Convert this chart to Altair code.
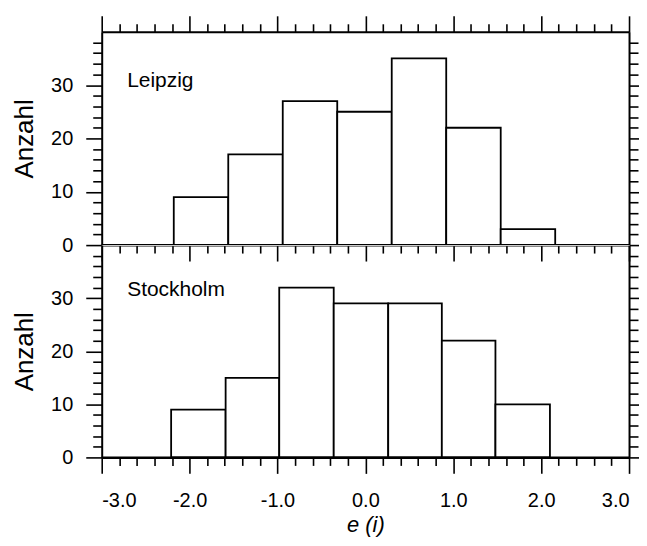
import altair as alt
import pandas as pd

# Histogram data
leipzig_edges = [-2.18, -1.56, -0.94, -0.32, 0.30, 0.92, 1.54, 2.16]
leipzig_counts = [9, 17, 27, 25, 35, 22, 3]
stockholm_edges = [-2.21, -1.59, -0.98, -0.36, 0.26, 0.87, 1.48, 2.10]
stockholm_counts = [9, 15, 32, 29, 29, 22, 10]
panel_names = ["Leipzig", "Stockholm"]

x_ticks = [round(-3 + 0.2 * i, 1) for i in range(31)]
y_ticks = list(range(0, 40, 2))

FONT = "Liberation Sans"
IS_INT = "abs(datum.value - round(datum.value)) < 0.001"


def frame(edges, counts):
    return pd.DataFrame({
        "x0": edges[:-1],
        "x1": edges[1:],
        "n": counts,
    })


def x_axis(orient, labels, title=None):
    kw = dict(
        orient=orient,
        values=x_ticks,
        tickSize={"condition": {"test": IS_INT, "value": 16}, "value": 8},
        tickColor="black",
        tickWidth=1.6,
        domainColor="black",
        domainWidth=2,
        grid=False,
        labels=labels,
        labelOverlap=False,
        title=title,
        zindex=1,
    )
    if labels:
        kw.update(
            labelExpr=f"{IS_INT} ? (datum.value < 0 ? '-' : '') + format(abs(datum.value), '.1f') : ''",
            labelFont=FONT,
            labelFontSize=20,
            labelColor="black",
            labelPadding=17,
        )
    if title:
        kw.update(
            titleFont=FONT,
            titleFontSize=22,
            titleFontStyle="italic",
            titleFontWeight="normal",
            titleColor="black",
            titlePadding=4,
        )
    return alt.Axis(**kw)


def y_axis(orient, labels):
    kw = dict(
        orient=orient,
        values=y_ticks,
        tickSize={"condition": {"test": "datum.value % 10 === 0", "value": 16}, "value": 9},
        tickColor="black",
        tickWidth=1.6,
        domainColor="black",
        domainWidth=2,
        grid=False,
        labels=labels,
        title="Anzahl" if labels else None,
        zindex=1,
    )
    if labels:
        kw.update(
            labelExpr="datum.value % 10 === 0 ? '' + datum.value : ''",
            labelFont=FONT,
            labelFontSize=20,
            labelColor="black",
            labelPadding=13,
            titleFont=FONT,
            titleFontSize=26,
            titleFontWeight="normal",
            titleColor="black",
            titlePadding=13,
        )
    return alt.Axis(**kw)


def panel(edges, counts, name, label_y, height, show_x_labels):
    df = frame(edges, counts)
    xs = alt.Scale(domain=[-3, 3], nice=False, zero=False)
    ys = alt.Scale(domain=[0, 40], nice=False)
    if show_x_labels:
        bottom_axis = x_axis("bottom", True, "e (i)")
    else:
        bottom_axis = x_axis("bottom", False)
    bars = alt.Chart(df).mark_rect(
        fill="white", stroke="black", strokeWidth=1.8
    ).encode(
        x=alt.X("x0:Q", scale=xs, axis=bottom_axis),
        x2="x1:Q",
        y=alt.Y("n:Q", scale=ys, axis=y_axis("left", True)),
        y2=alt.datum(0),
    )
    ghost_enc = dict(y=alt.Y("n:Q", scale=ys, axis=y_axis("right", False)))
    if not show_x_labels:
        ghost_enc["x"] = alt.X("x0:Q", scale=xs, axis=x_axis("top", False))
    ghost = alt.Chart(df).mark_point(opacity=0).encode(**ghost_enc)
    base_line = alt.Chart(pd.DataFrame({"t": [name]})).mark_rule(
        color="black", strokeWidth=2
    ).encode(y=alt.YDatum(0, axis=None))
    label = alt.Chart(pd.DataFrame({"t": [name]})).mark_text(
        align="left", baseline="alphabetic", font=FONT, fontSize=21, color="black"
    ).encode(
        x=alt.XDatum(-2.71, axis=None),
        y=alt.YDatum(label_y, axis=None),
        text="t:N",
    )
    return alt.layer(bars, ghost, base_line, label).resolve_axis(
        x="independent", y="independent"
    ).properties(width=529, height=height)


top = panel(leipzig_edges, leipzig_counts, panel_names[0], 29.7, 214, False)
bottom = panel(stockholm_edges, stockholm_counts, panel_names[1], 30.5, 213, True)

chart = alt.vconcat(top, bottom, spacing=0, bounds="flush").properties(
    padding={"left": 3, "top": 5, "right": -8, "bottom": 0}
).configure_view(stroke=None).configure(background="white")

chart.save("out.html", embed_options={"renderer": "svg", "actions": False})
